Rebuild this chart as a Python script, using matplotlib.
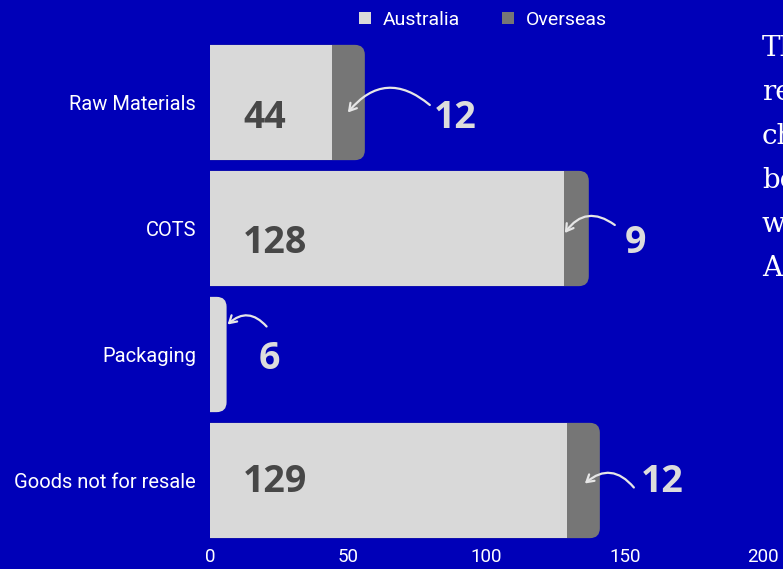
"""
Stacked horizontal bars: Australia vs Overseas spend by category
"""

import matplotlib
matplotlib.use('Agg')
import matplotlib.pyplot as plt
from matplotlib.patches import FancyBboxPatch, Patch
from matplotlib.transforms import offset_copy

categories = ['Raw Materials', 'COTS', 'Packaging', 'Goods not for resale']
australia = [44, 128, 6, 129]
overseas = [12, 9, 0, 12]
side_text = ['Th', 're', 'ch', 'be', 'w', 'A']

bg = '#0000b8'
c_aus = '#d9d9d9'
c_ovs = '#767676'

# hand placed callouts, pixels relative to bar end / bar centre (y down)
tail_px = [(65, 2.5), (26, -3.5), (40, -28), (34, 7)]
head_px = [(-17, 10), (-24, 4.5), (1, -30), (-15, 3)]
label_px = [(90, 15), (47, 14.5), (43, 4.5), (62, 2)]

fig = plt.figure(figsize=(7.83, 5.69), dpi=100, facecolor=bg)
ax = fig.add_axes([210 / 783, 25.5 / 569, 553 / 783, 504 / 569])
ax.set_facecolor(bg)

ax.set_xlim(0, 200)
ax.set_ylim(3.5, -0.5)
h = 0.915
r = 3.6  # rounding in x units
asp = (10 / 126) / r

for i, (a, o) in enumerate(zip(australia, overseas)):
    total = a + o
    end_col = c_ovs if o > 0 else c_aus
    # rounded tail piece, starts left of 0 so its left corners are hidden
    box = FancyBboxPatch((-10, i - h / 2), total + 10, h,
                         boxstyle='round,pad=0,rounding_size=%f' % r,
                         mutation_aspect=asp, fc=end_col, ec='none', zorder=2)
    ax.add_patch(box)
    if o > 0:
        ax.barh(i, a, height=h, color=c_aus, zorder=3)

    # inner label
    if a > 20:
        t = offset_copy(ax.transData, fig=fig, x=33, y=-label_px[i][1], units='dots')
        ax.text(0, i, str(a), transform=t, ha='left', va='center', fontsize=27,
                fontweight='bold', color='#474747', family='Open Sans', zorder=5)

    # outside callout
    val = o if o > 0 else a
    tx, ty = tail_px[i]
    hx, hy = head_px[i]
    lx, ly = label_px[i]
    tr_tail = offset_copy(ax.transData, fig=fig, x=tx, y=-ty, units='dots')
    tr_head = offset_copy(ax.transData, fig=fig, x=hx, y=-hy, units='dots')
    tr_lab = offset_copy(ax.transData, fig=fig, x=lx, y=-ly, units='dots')
    ax.annotate('', xy=(total, i), xycoords=tr_head,
                xytext=(total, i), textcoords=tr_tail,
                arrowprops=dict(arrowstyle='->,head_length=0.5,head_width=0.3',
                                connectionstyle='arc3,rad=0.5', color='#e6e6e6',
                                lw=1.6, shrinkA=0, shrinkB=0), zorder=6)
    ax.text(total, i, str(val), transform=tr_lab, ha='center', va='center',
            fontsize=27, fontweight='bold', color='#dcdcdc', family='Open Sans',
            zorder=6)

ax.set_yticks(range(len(categories)))
ax.set_yticklabels(categories)
ax.set_xticks([0, 50, 100, 150, 200])
ax.tick_params(length=0, colors='white', labelsize=13.5)
ax.tick_params(axis='y', pad=10, labelsize=14.5)
ax.tick_params(axis='x', pad=3)
for lab in ax.get_yticklabels() + ax.get_xticklabels():
    lab.set_family('Roboto')
for s in ax.spines.values():
    s.set_visible(False)

handles = [Patch(fc=c_aus, ec='none'), Patch(fc=c_ovs, ec='none')]
leg = fig.legend(handles, ['Australia', 'Overseas'], loc='center',
                 bbox_to_anchor=(483 / 783, 1 - 20 / 569), ncol=2, frameon=False,
                 handlelength=0.6, handleheight=0.6, handletextpad=0.6,
                 columnspacing=2.2, prop={'family': 'Roboto', 'size': 14})
for t in leg.get_texts():
    t.set_color('white')

for k, s in enumerate(side_text):
    fig.text(762 / 783, 1 - (56 + 44 * k) / 569, s, ha='left', va='baseline',
             fontsize=20, color='white', family='DejaVu Serif')

fig.savefig('out.png', dpi=100, facecolor=bg)
